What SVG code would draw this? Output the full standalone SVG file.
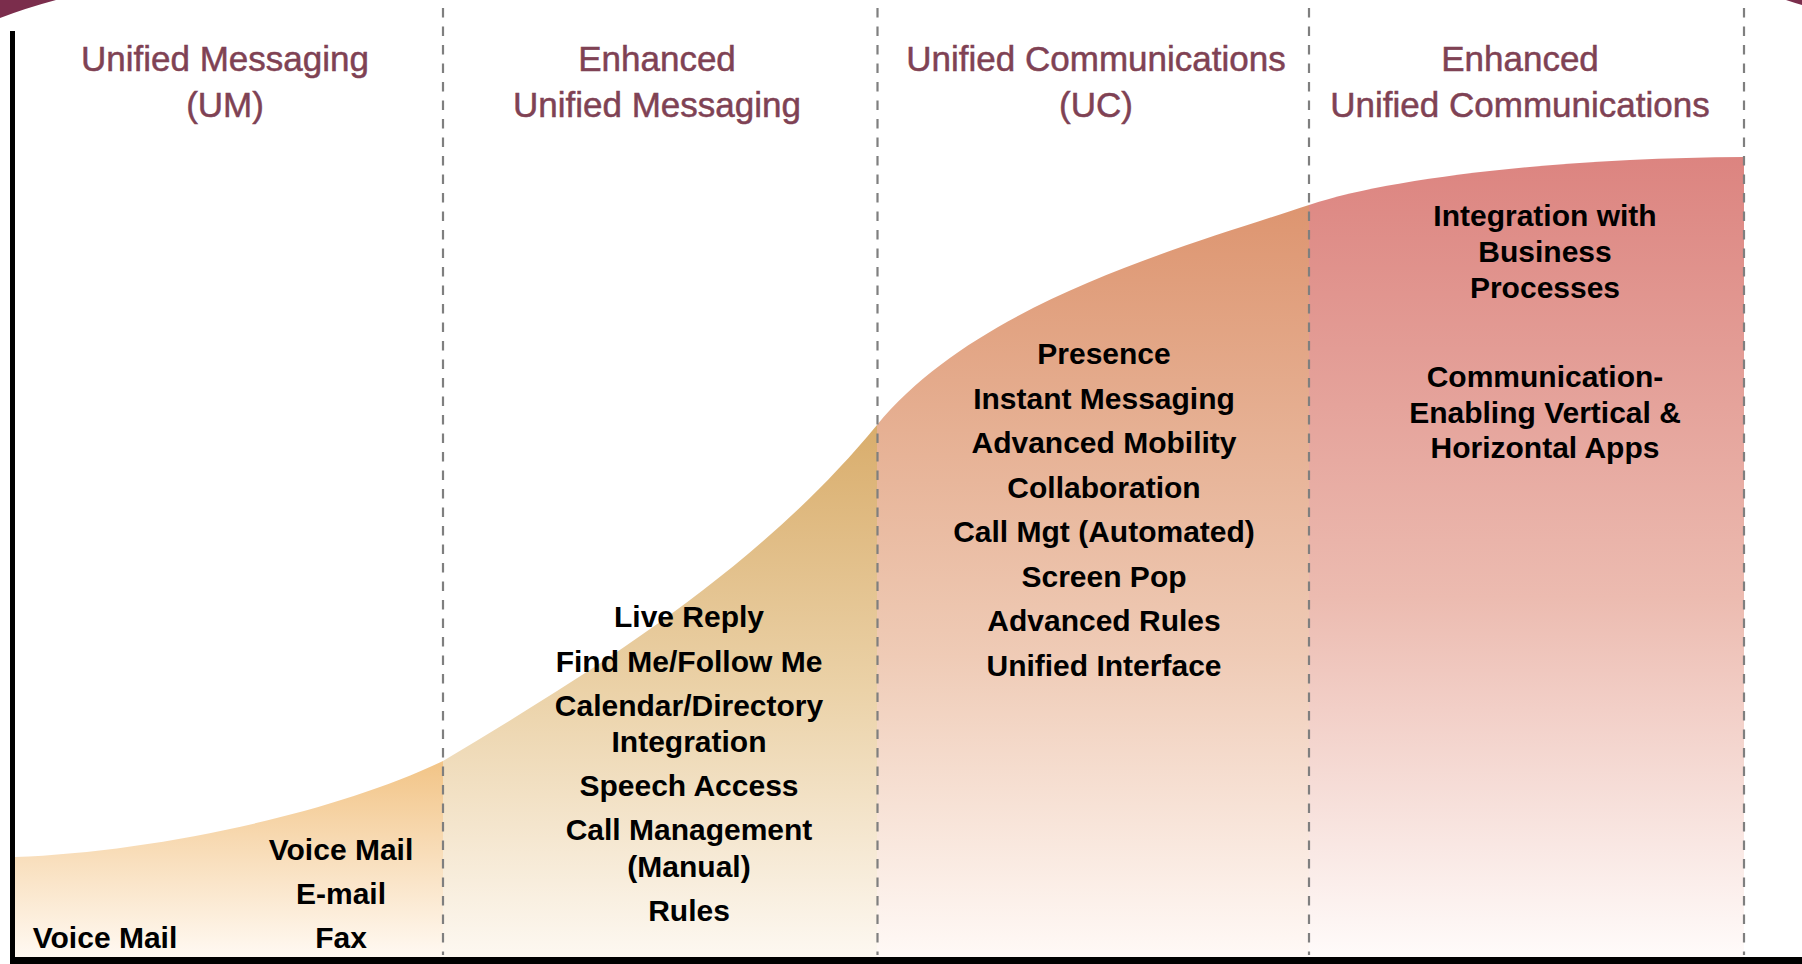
<svg xmlns="http://www.w3.org/2000/svg" width="1802" height="964" viewBox="0 0 1802 964">
  <style>
    .hdr { font-family: "Liberation Sans", Arial, sans-serif; font-size: 35px; fill: #7f4254; stroke: #7f4254; stroke-width: 0.5; text-anchor: middle; }
    .itm { font-family: "Liberation Sans", Arial, sans-serif; font-size: 30px; font-weight: bold; fill: #000; text-anchor: middle; }
    .div { stroke: #7f7f7f; stroke-width: 2.2; stroke-dasharray: 9.5 9; fill: none; }
  </style>
  <defs>
    <linearGradient id="g1" gradientUnits="userSpaceOnUse" x1="0" y1="760" x2="0" y2="957">
      <stop offset="0" stop-color="#f2c486"/>
      <stop offset="1" stop-color="#fff9f2"/>
    </linearGradient>
    <linearGradient id="g2" gradientUnits="userSpaceOnUse" x1="0" y1="425" x2="0" y2="957">
      <stop offset="0" stop-color="#d9ad6c"/>
      <stop offset="0.5" stop-color="#ebd2a8"/>
      <stop offset="1" stop-color="#fdf8f1"/>
    </linearGradient>
    <linearGradient id="g3" gradientUnits="userSpaceOnUse" x1="0" y1="205" x2="0" y2="957">
      <stop offset="0" stop-color="#dd9570"/>
      <stop offset="0.6" stop-color="#efcbb6"/>
      <stop offset="1" stop-color="#fff9f6"/>
    </linearGradient>
    <linearGradient id="g4" gradientUnits="userSpaceOnUse" x1="0" y1="157" x2="0" y2="957">
      <stop offset="0" stop-color="#dc8480"/>
      <stop offset="0.55" stop-color="#ecbbb0"/>
      <stop offset="1" stop-color="#fffbfa"/>
    </linearGradient>
  </defs>
  <rect width="1802" height="964" fill="#ffffff"/>

  <!-- corner decorations -->
  <path d="M0,0 L56,0 Q26,8 0,18 Z" fill="#7b2d4c"/>
  <path d="M1786,0 L1802,0 L1802,5 Q1795,3 1786,0 Z" fill="#7b2d4c"/>

  <!-- phase fills under the adoption curve -->
  <g id="fills">
    <path id="fill-um" d="M15,857 C150,852 330,815 443,761 L443,957 L15,957 Z" fill="url(#g1)"/>
    <path id="fill-eum" d="M443,761 C593,671 757,571 877,425 L877,957 L443,957 Z" fill="url(#g2)"/>
    <path id="fill-uc" d="M877,425 C977,303 1179,248 1309,205 L1309,957 L877,957 Z" fill="url(#g3)"/>
    <path id="fill-euc" d="M1309,205 C1390,178 1560,158 1744,157 L1744,957 L1309,957 Z" fill="url(#g4)"/>
  </g>

  <!-- dividers -->
  <g id="connectors">
    <line class="div" x1="443" y1="8" x2="443" y2="955"/>
    <line class="div" x1="877.5" y1="8" x2="877.5" y2="955"/>
    <line class="div" x1="1309" y1="8" x2="1309" y2="955"/>
    <line class="div" x1="1744" y1="8" x2="1744" y2="955"/>
  </g>

  <!-- axes -->
  <g id="axes">
    <rect x="10" y="31" width="5" height="933" fill="#000"/>
    <rect x="10" y="957" width="1792" height="7" fill="#000"/>
  </g>

  <g id="phase-um">
    <text class="hdr" x="225" y="71">Unified Messaging</text>
    <text class="hdr" x="225" y="117">(UM)</text>
    <text class="itm" x="105" y="948">Voice Mail</text>
    <text class="itm" x="341" y="860">Voice Mail</text>
    <text class="itm" x="341" y="904">E-mail</text>
    <text class="itm" x="341" y="948">Fax</text>
  </g>

  <g id="phase-eum">
    <text class="hdr" x="657" y="71">Enhanced</text>
    <text class="hdr" x="657" y="117">Unified Messaging</text>
    <text class="itm" x="689" y="627">Live Reply</text>
    <text class="itm" x="689" y="672">Find Me/Follow Me</text>
    <text class="itm" x="689" y="716">Calendar/Directory</text>
    <text class="itm" x="689" y="752">Integration</text>
    <text class="itm" x="689" y="796">Speech Access</text>
    <text class="itm" x="689" y="840">Call Management</text>
    <text class="itm" x="689" y="877">(Manual)</text>
    <text class="itm" x="689" y="921">Rules</text>
  </g>

  <g id="phase-uc">
    <text class="hdr" x="1096" y="71">Unified Communications</text>
    <text class="hdr" x="1096" y="117">(UC)</text>
    <text class="itm" x="1104" y="364">Presence</text>
    <text class="itm" x="1104" y="409">Instant Messaging</text>
    <text class="itm" x="1104" y="453">Advanced Mobility</text>
    <text class="itm" x="1104" y="498">Collaboration</text>
    <text class="itm" x="1104" y="542">Call Mgt (Automated)</text>
    <text class="itm" x="1104" y="587">Screen Pop</text>
    <text class="itm" x="1104" y="631">Advanced Rules</text>
    <text class="itm" x="1104" y="676">Unified Interface</text>
  </g>

  <g id="phase-euc">
    <text class="hdr" x="1520" y="71">Enhanced</text>
    <text class="hdr" x="1520" y="117">Unified Communications</text>
    <text class="itm" x="1545" y="226">Integration with</text>
    <text class="itm" x="1545" y="262">Business</text>
    <text class="itm" x="1545" y="298">Processes</text>
    <text class="itm" x="1545" y="387">Communication-</text>
    <text class="itm" x="1545" y="423">Enabling Vertical &amp;</text>
    <text class="itm" x="1545" y="458">Horizontal Apps</text>
  </g>
</svg>
